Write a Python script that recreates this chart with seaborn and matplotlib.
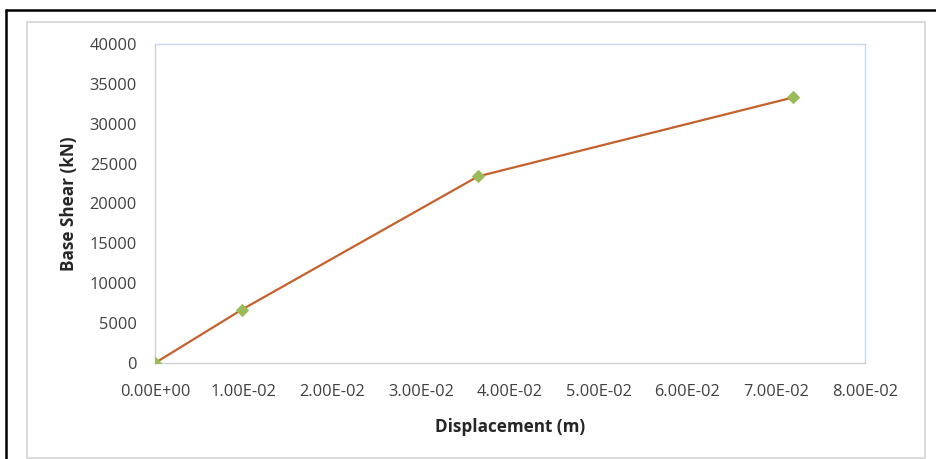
import matplotlib
matplotlib.use("Agg")
import matplotlib.pyplot as plt
from matplotlib.lines import Line2D
from matplotlib.patches import Rectangle
import seaborn as sns
import pandas as pd

# Pushover curve: displacement (m) vs base shear (kN)
displacement = [0.0, 0.0098, 0.0364, 0.0719]
base_shear = [0, 6700, 23400, 33300]

x_ticks = [0.0, 0.01, 0.02, 0.03, 0.04, 0.05, 0.06, 0.07, 0.08]
x_tick_labels = ["0.00E+00", "1.00E-02", "2.00E-02", "3.00E-02", "4.00E-02",
                 "5.00E-02", "6.00E-02", "7.00E-02", "8.00E-02"]
y_ticks = [0, 5000, 10000, 15000, 20000, 25000, 30000, 35000, 40000]

df = pd.DataFrame({"Displacement (m)": displacement, "Base Shear (kN)": base_shear})

sns.set_theme(style="white")
plt.rcParams["font.family"] = ["Open Sans", "DejaVu Sans"]

W, H = 937, 459
fig = plt.figure(figsize=(W / 100, H / 100), dpi=100)
fig.patch.set_facecolor("white")

# plot area in pixel coordinates
left, right, top, bottom = 155, 865, 44, 363
ax = fig.add_axes([left / W, 1 - bottom / H, (right - left) / W, (bottom - top) / H])

sns.lineplot(data=df, x="Displacement (m)", y="Base Shear (kN)", ax=ax,
             color="#C5612C", linewidth=1.6, marker="D", markersize=6,
             markerfacecolor="#9BBB59", markeredgecolor="#9BBB59", zorder=3)

ax.set_xlim(0, 0.08)
ax.set_ylim(0, 40000)
ax.set_xticks(x_ticks)
ax.set_xticklabels(x_tick_labels)
ax.set_yticks(y_ticks)
ax.set_yticklabels([str(v) for v in y_ticks])
ax.tick_params(axis="both", length=0, labelsize=11.8, labelcolor="#404040")
ax.tick_params(axis="x", pad=15)
ax.tick_params(axis="y", pad=13)

for side in ["top", "right"]:
    ax.spines[side].set_color("#C9D9EA")
    ax.spines[side].set_linewidth(1.0)
for side in ["left", "bottom"]:
    ax.spines[side].set_color("#D0D0D0")
    ax.spines[side].set_linewidth(1.0)

ax.set_xlabel("Displacement (m)", fontsize=12.3, fontweight="bold", color="#262626", labelpad=13)
ax.set_ylabel("Base Shear (kN)", fontsize=12.3, fontweight="bold", color="#262626", labelpad=8)

# chart-area frame and outer border
fig.add_artist(Rectangle((27 / W, 1 - 458 / H), (925 - 27) / W, (458 - 22) / H,
                         transform=fig.transFigure, fill=False,
                         edgecolor="#D4D4D4", linewidth=1.2))
fig.add_artist(Line2D([6 / W, 6 / W], [0, 1 - 10 / H], transform=fig.transFigure,
                      color="black", linewidth=1.8))
fig.add_artist(Line2D([6 / W, 1], [1 - 10 / H, 1 - 10 / H], transform=fig.transFigure,
                      color="black", linewidth=1.8))

fig.savefig("out.png", dpi=100)
